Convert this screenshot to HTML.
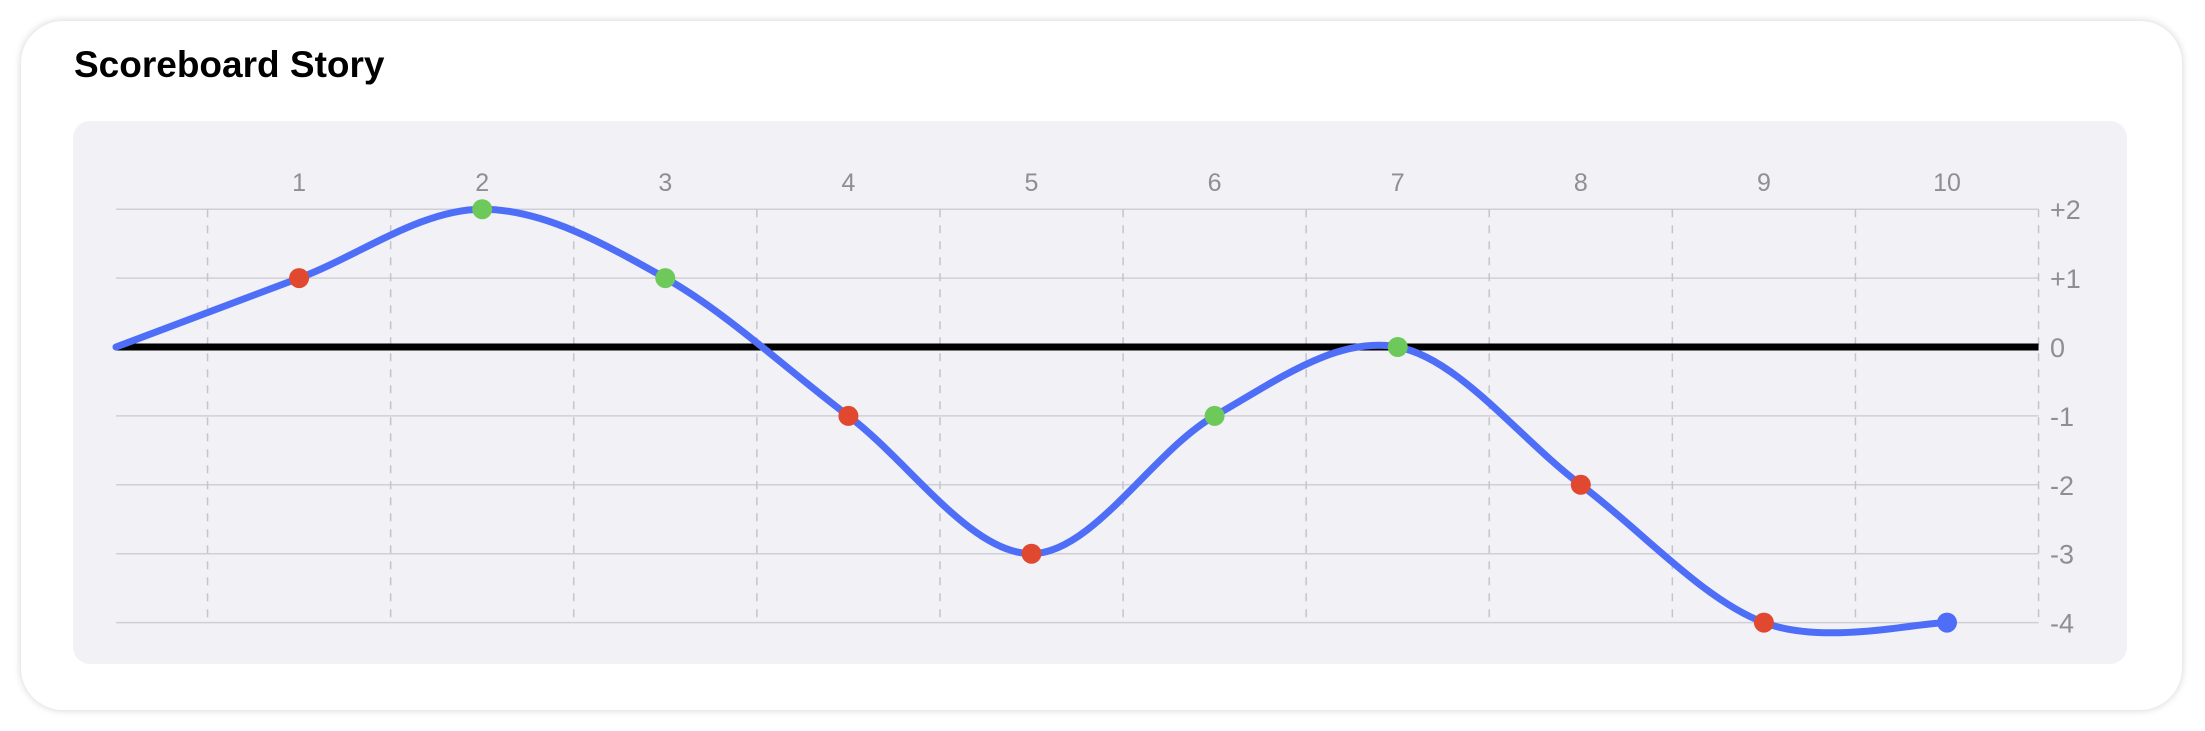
<!DOCTYPE html>
<html><head><meta charset="utf-8"><style>
html,body{margin:0;padding:0;background:#fff;width:2205px;height:731px;overflow:hidden;font-family:"Liberation Sans",sans-serif}
.card{position:absolute;left:21px;top:21px;width:2161px;height:689px;border-radius:42px;background:#fff;box-shadow:0 0 8px rgba(0,0,0,0.18)}
.title{position:absolute;left:74px;top:44px;font-size:37px;font-weight:bold;color:#000}
svg{position:absolute;left:0;top:0}
</style></head><body>
<div class="card"></div>
<div class="title">Scoreboard Story</div>
<svg id="chart" width="2205" height="731"></svg>
<script>
const categories = [1,2,3,4,5,6,7,8,9,10];
const values = [1,2,1,-1,-3,-1,0,-2,-4,-4];
const startValue = 0;
const markerColors = ['#e0492f','#6cc95a','#6cc95a','#e0492f','#e0492f','#6cc95a','#6cc95a','#e0492f','#e0492f','#4f6ef7'];
const yTicks = [2,1,0,-1,-2,-3,-4];
const yTickLabels = ['+2','+1','0','-1','-2','-3','-4'];

const NS='http://www.w3.org/2000/svg';
const svg=document.getElementById('chart');
const X0=116, XSTEP=183.1, Y0=347, YSTEP=68.9;
const xs=i=>X0+i*XSTEP;
const ys=v=>Y0-v*YSTEP;
function mk(tag,attrs,parent){const e=document.createElementNS(NS,tag);for(const k in attrs)e.setAttribute(k,attrs[k]);(parent||svg).appendChild(e);return e;}

const bg=mk('rect',{x:73,y:121,width:2054,height:543,rx:17,fill:'#f1f1f6'});



yTicks.forEach((t,i)=>{
  const l=mk('line',{x1:X0,x2:xs(10.5),y1:ys(t),y2:ys(t),stroke:'#cfcfd6','stroke-width':1.5});
  
  
  const tx=mk('text',{x:2050,y:ys(t)+10,'font-size':27,fill:'#8e8e93','font-family':'Liberation Sans, sans-serif'});
  tx.textContent=yTickLabels[i];
  
  
});
for(let i=1;i<=categories.length+1;i++){
  const l=mk('line',{x1:xs(i-0.5),x2:xs(i-0.5),y1:ys(2),y2:ys(-4),stroke:'#c4c4cc','stroke-width':1.5,'stroke-dasharray':'8,8'});
  
  
}
categories.forEach((c,i)=>{
  const tx=mk('text',{x:xs(i+1),y:191,'font-size':25,fill:'#8e8e93','text-anchor':'middle','font-family':'Liberation Sans, sans-serif'});
  tx.textContent=c;
  
  
});
const zl=mk('line',{x1:X0,x2:xs(10.5),y1:ys(0),y2:ys(0),stroke:'#000','stroke-width':7});



const pts=[[xs(0),ys(startValue)]].concat(values.map((v,i)=>[xs(i+1),ys(v)]));
let d='M'+pts[0][0]+','+pts[0][1];
for(let i=0;i<pts.length-1;i++){
  const p0=pts[Math.max(0,i-1)],p1=pts[i],p2=pts[i+1],p3=pts[Math.min(pts.length-1,i+2)];
  const c1=[p1[0]+(p2[0]-p0[0])/6,p1[1]+(p2[1]-p0[1])/6];
  const c2=[p2[0]-(p3[0]-p1[0])/6,p2[1]-(p3[1]-p1[1])/6];
  d+=` C${c1[0]},${c1[1]} ${c2[0]},${c2[1]} ${p2[0]},${p2[1]}`;
}
const line=mk('path',{d:d,fill:'none',stroke:'#4f6ef7','stroke-width':7,'stroke-linecap':'round'});



values.forEach((v,i)=>{
  const c=mk('circle',{cx:xs(i+1),cy:ys(v),r:10,fill:markerColors[i]});
  
  
});
</script>
</body></html>
